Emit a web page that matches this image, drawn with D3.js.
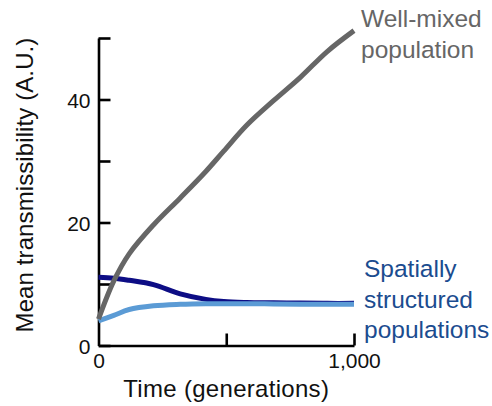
<!DOCTYPE html>
<html>
<head>
<meta charset="utf-8">
<script src="https://cdn.jsdelivr.net/npm/d3@7"></script>
<style>
  body { margin: 0; background: #fff; }
  svg text { font-family: "Liberation Sans", Arial, sans-serif; }
</style>
</head>
<body>
<div id="chart"></div>
<script>
/* ============================================================
   DATA
============================================================ */

const generations = [0, 60, 120, 215, 320, 420, 490, 580, 685, 790, 895, 1000];

// well-mixed population, grey
const wellMixed = [4.3, 10.5, 14.9, 19.6, 24.0, 28.3, 31.6, 35.8, 39.8, 43.6, 47.8, 51.2];

// spatially structured, started high (navy)
const structuredHigh = [11.1, 10.95, 10.6, 9.9, 8.4, 7.5, 7.15, 7.0, 6.95, 6.9, 6.85, 6.85];

// spatially structured, started low (light blue)
const structuredLow = [4.0, 4.9, 5.85, 6.45, 6.7, 6.8, 6.8, 6.8, 6.75, 6.7, 6.7, 6.7];

const yTicks = [0, 10, 20, 30, 40, 50];
const yTickLabels = { 0: "0", 20: "20", 40: "40" };
const xTicks = [0, 500, 1000];
const xTickLabels = { 0: "0", 1000: "1,000" };

/* ============================================================
   SETUP
============================================================ */

const W = 492, H = 406;
const margin = { top: 38, right: 138, bottom: 60.5, left: 98.5 };
const width = W - margin.left - margin.right;
const height = H - margin.top - margin.bottom;

const svg = d3.select("#chart")
    .append("svg")
    .attr("width", W)
    .attr("height", H);

const g = svg.append("g")
    .attr("transform", `translate(${margin.left},${margin.top})`);

const xScale = d3.scaleLinear().domain([0, 1000]).range([0, width]);
const yScale = d3.scaleLinear().domain([0, 50]).range([height, 0]);

/* ============================================================
   AXES
============================================================ */

const yAxis = g.append("g")
    .call(d3.axisLeft(yScale)
        .tickValues(yTicks)
        .tickSize(-12)
        .tickSizeOuter(0)
        .tickFormat(d => yTickLabels[d] || ""));

yAxis.select(".domain").attr("stroke-width", 2.6).attr("stroke", "#000");
yAxis.selectAll(".tick line").attr("stroke-width", 2.6).attr("stroke", "#000");
yAxis.selectAll(".tick text")
    .attr("font-size", "21px")
    .attr("fill", "#111")
    .attr("x", -8)
    .attr("dy", "0.36em");

const xAxis = g.append("g")
    .attr("transform", `translate(0,${height})`)
    .call(d3.axisBottom(xScale)
        .tickValues(xTicks)
        .tickSize(-12)
        .tickSizeOuter(0)
        .tickFormat(d => xTickLabels[d] || ""));

xAxis.select(".domain").attr("stroke-width", 2.6).attr("stroke", "#000");
xAxis.selectAll(".tick line")
    .attr("stroke-width", 2.6)
    .attr("stroke", d => d === 0 ? "none" : "#000");
xAxis.selectAll(".tick text")
    .attr("font-size", "21px")
    .attr("fill", "#111")
    .attr("y", 8)
    .attr("dy", "0.71em");

svg.append("text")
    .attr("x", margin.left + xScale(500))
    .attr("y", 397)
    .attr("text-anchor", "middle")
    .attr("font-size", "24px")
    .attr("letter-spacing", "0.3px")
    .attr("fill", "#111")
    .text("Time (generations)");

svg.append("text")
    .attr("transform", `translate(33,${185}) rotate(-90)`)
    .attr("text-anchor", "middle")
    .attr("font-size", "24px")
    .attr("letter-spacing", "0.1px")
    .attr("fill", "#111")
    .text("Mean transmissibility (A.U.)");

/* ============================================================
   LINES
============================================================ */

const series = [
    { values: structuredHigh, color: "#0d0d85", w: 5 },
    { values: structuredLow, color: "#5b9bd5", w: 5 },
    { values: wellMixed, color: "#666666", w: 5 }
];

const line = d3.line()
    .x((d, i) => xScale(generations[i]))
    .y(d => yScale(d))
    .curve(d3.curveCatmullRom);

g.selectAll("path.series")
    .data(series)
    .join("path")
    .attr("class", "series")
    .attr("d", d => line(d.values))
    .attr("fill", "none")
    .attr("stroke", d => d.color)
    .attr("stroke-width", d => d.w)
    .attr("stroke-linecap", "butt");

/* ============================================================
   INLINE LABELS
============================================================ */

const labels = [
    { lines: ["Well-mixed", "population"], x: 361, y: 27, color: "#666666" },
    { lines: ["Spatially", "structured", "populations"], x: 364, y: 277, color: "#1b4c8f" }
];

labels.forEach(l => {
    const t = svg.append("text")
        .attr("x", l.x)
        .attr("y", l.y)
        .attr("font-size", "24.5px")
        .attr("fill", l.color);
    t.selectAll("tspan")
        .data(l.lines)
        .join("tspan")
        .attr("x", l.x)
        .attr("dy", (d, i) => i === 0 ? 0 : 30.5)
        .text(d => d);
});
</script>
</body>
</html>
